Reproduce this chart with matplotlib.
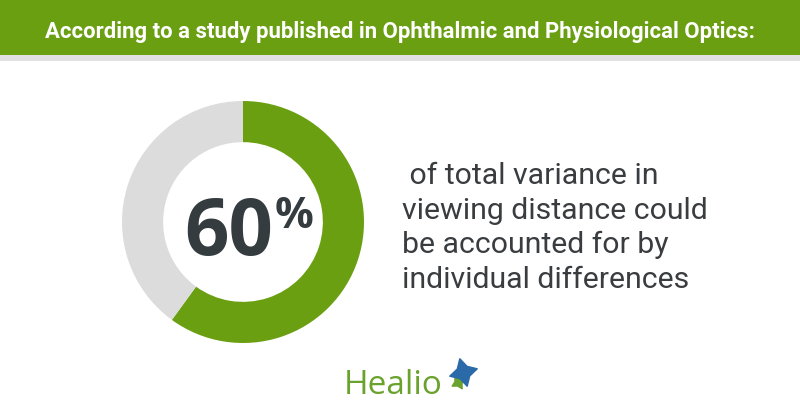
import matplotlib
matplotlib.use("Agg")
import matplotlib.pyplot as plt
from matplotlib.patches import Rectangle

# data
labels = ["individual differences", "other"]
shares = [60, 40]
headline = "According to a study published in Ophthalmic and Physiological Optics:"
body_lines = [" of total variance in", "viewing distance could",
              "be accounted for by", "individual differences"]

GREEN = "#6b9f12"
GRAY = "#dcdcdc"
DARK = "#343c40"
TEXT = "#3a3d40"

fig = plt.figure(figsize=(8, 4.2), dpi=100)
fig.patch.set_facecolor("white")

# background axes in pixel-like coordinates
bg = fig.add_axes([0, 0, 1, 1])
bg.set_xlim(0, 800)
bg.set_ylim(420, 0)
bg.axis("off")
bg.add_patch(Rectangle((0, 0), 800, 55, color=GREEN, lw=0))
bg.add_patch(Rectangle((0, 55), 800, 6, color="#e2dfe2", lw=0))
bg.text(400, 38, headline, color="white", fontsize=15.9, fontweight="bold",
        family="Roboto", ha="center", va="baseline")

for i, line in enumerate(body_lines):
    bg.text(402, 184 + i * 34.7, line, color=TEXT, fontsize=21.8,
            family="Roboto", ha="left", va="baseline")

# donut
cx, cy, r = 243, 222, 121
pie_ax = fig.add_axes([(cx - r) / 800, 1 - (cy + r) / 420, 2 * r / 800, 2 * r / 420])
pie_ax.pie(shares, colors=[GREEN, GRAY], startangle=90, counterclock=False,
           radius=1, wedgeprops=dict(width=0.34, linewidth=0))
pie_ax.set_xlim(-1, 1)
pie_ax.set_ylim(-1, 1)
pie_ax.axis("off")

bg.text(273, 255, str(shares[0]), color=DARK, fontsize=56, fontweight="bold",
        family="Open Sans", ha="right", va="baseline")
bg.text(275, 228, "%", color=DARK, fontsize=31, fontweight="bold",
        family="Open Sans", ha="left", va="baseline")

# logo
bg.text(344, 394, "Healio", color="#6aa22e", fontsize=24, family="Open Sans",
        ha="left", va="baseline")
bg.scatter([463], [372], marker=(4, 1, 15), s=420, color="#2a6aa8", zorder=5)
bg.scatter([458], [382], marker=(4, 1, 30), s=110, color="#6aa22e", zorder=4)

fig.savefig("out.png", dpi=100)
